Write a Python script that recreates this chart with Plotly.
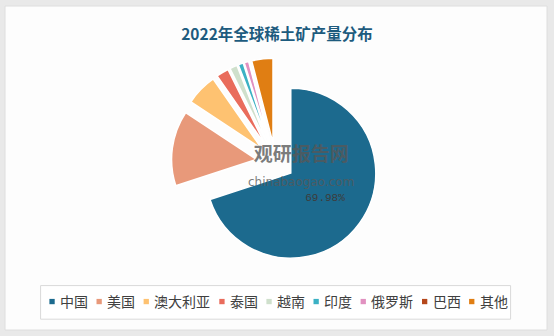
import plotly.graph_objects as go

# ---- data ----
categories = ["中国", "美国", "澳大利亚", "泰国", "越南", "印度", "俄罗斯", "巴西", "其他"]
production = [210000, 43000, 18000, 7100, 4300, 2900, 2600, 80, 12100]
colors = ["#1c6a8e", "#e8997a", "#fec271", "#e96c5c", "#cfe0cc", "#3bb1c4", "#e191c0", "#b5471b", "#e07e13"]
shown_label = [True, False, False, False, False, False, False, False, False]
title_text = "2022年全球稀土矿产量分布"
watermark_cn = "观研报告网"
watermark_en = "chinabaogao.com"

W, H = 554, 336
CJK = "Noto Sans CJK SC"

def px_x(x):
    return x / W

def px_y(y):
    return 1 - y / H

pull = 0.2235
cx, cy, half = 275.4, 162.0, 104.0

fig = go.Figure()
fig.add_trace(go.Pie(
    labels=categories,
    values=production,
    sort=False,
    direction="clockwise",
    rotation=0,
    pull=[pull] * len(categories),
    marker=dict(colors=colors, line=dict(color="white", width=1.5)),
    texttemplate=["%{percent:.2%}" if s else "" for s in shown_label],
    textposition="inside",
    insidetextorientation="horizontal",
    textfont=dict(family="Liberation Mono", size=11, color="#3c3c3c"),
    showlegend=False,
    domain=dict(x=[px_x(cx - half), px_x(cx + half)],
                y=[px_y(cy + half), px_y(cy - half)]),
))

shapes = [
    # inner white panel
    dict(type="rect", xref="paper", yref="paper", layer="below",
         x0=px_x(5), x1=px_x(547), y0=px_y(330), y1=px_y(6),
         fillcolor="#fdfdfd", line=dict(color="#dedede", width=1)),
    # legend box
    dict(type="rect", xref="paper", yref="paper", layer="below",
         x0=px_x(40.6), x1=px_x(510.6), y0=px_y(319.2), y1=px_y(285.6),
         fillcolor="#ffffff", line=dict(color="#d9d9d9", width=1)),
]
annotations = []

# custom horizontal legend
x_text = 60.0
ly = 301.0
for name, col in zip(categories, colors):
    shapes.append(dict(type="rect", xref="paper", yref="paper",
                       x0=px_x(x_text - 10.6), x1=px_x(x_text - 5.3),
                       y0=px_y(ly + 3.2), y1=px_y(ly - 2.1),
                       fillcolor=col, line=dict(width=0)))
    annotations.append(dict(text=name, xref="paper", yref="paper",
                            x=px_x(x_text - 2), y=px_y(ly), xanchor="left", yanchor="middle",
                            showarrow=False,
                            font=dict(family=CJK, size=14, color="#404040")))
    x_text += 14.3 * len(name) + 18.5

# watermark (single text block)
annotations.append(dict(
    text=("<b>" + watermark_cn + "</b><br>"
          "<span style='font-size:12px;font-family:DejaVu Sans'>" + watermark_en + "</span>"),
    xref="paper", yref="paper", x=px_x(301), y=px_y(164), showarrow=False,
    align="center",
    font=dict(family=CJK, size=19, color="rgba(88,88,88,0.8)")))

fig.update_layout(
    width=W, height=H,
    margin=dict(l=0, r=0, t=0, b=0),
    paper_bgcolor="#e9e9e9",
    title=dict(text=title_text, x=0.5, xanchor="center", xref="paper",
               y=px_y(35), yanchor="middle", yref="container",
               font=dict(family=CJK, size=15.5, color="#1d5b7e", weight="bold")),
    shapes=shapes,
    annotations=annotations,
)

fig.write_html("out.html")
